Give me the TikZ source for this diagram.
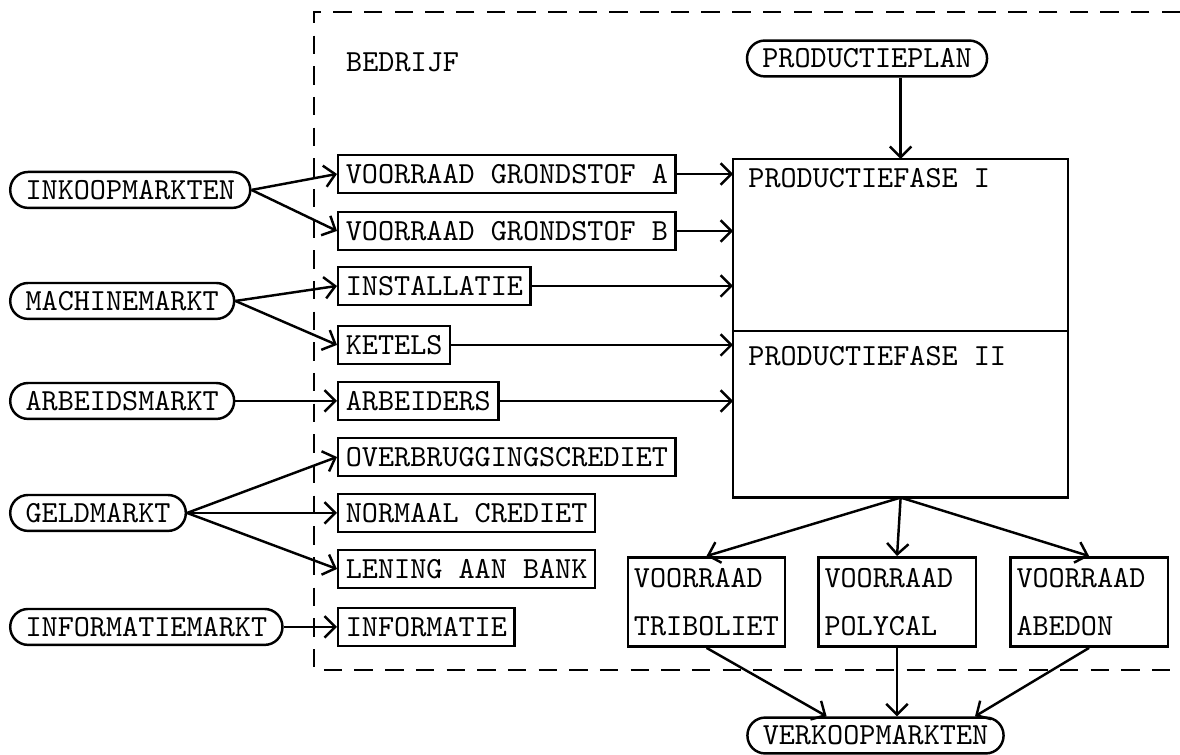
\documentclass[tikz,border=0pt]{standalone}
\usetikzlibrary{arrows.meta,calc}
\begin{document}
\begin{tikzpicture}[>={Straight Barb[length=3.5pt,width=7pt]}, line width=0.8pt,
  markt/.style={draw, rounded corners=5.8pt, minimum height=11.7pt, inner xsep=5pt, inner ysep=0pt, font=\ttfamily, anchor=west},
  boxl/.style={draw, minimum height=12.4pt, inner xsep=2.5pt, inner ysep=0pt, font=\ttfamily, anchor=west},
  boxv/.style={draw, text width=47.3pt, align=left, inner xsep=2pt, inner ysep=3.6pt, font=\ttfamily},
  fase/.style={draw, minimum width=3.84cm, inner sep=0pt, outer sep=0pt},
  fasetekst/.style={anchor=north west, font=\ttfamily, inner xsep=4.6pt}]

\useasboundingbox (0,0) rectangle (13.52,8.65);

\draw[dash pattern=on 6pt off 4pt] (13.52,8.513) -- (3.598,8.513) -- (3.598,0.974) -- (13.52,0.974);
\node[anchor=base west, font=\ttfamily, inner sep=0pt] (bedrijf) at (3.953,7.826) {BEDRIJF};

\node[markt] (inkoop) at (0.103,6.474) {INKOOPMARKTEN};
\node[markt] (machine) at (0.103,5.202) {MACHINEMARKT};
\node[markt] (arbeids) at (0.103,4.056) {ARBEIDSMARKT};
\node[markt] (geld) at (0.103,2.773) {GELDMARKT};
\node[markt] (infomarkt) at (0.103,1.467) {INFORMATIEMARKT};

\node[boxl] (vga) at (3.861,6.657) {VOORRAAD GRONDSTOF A};
\node[boxl] (vgb) at (3.861,6.004) {VOORRAAD GRONDSTOF B};
\node[boxl] (inst) at (3.861,5.374) {INSTALLATIE};
\node[boxl] (ketels) at (3.861,4.698) {KETELS};
\node[boxl] (arb) at (3.861,4.056) {ARBEIDERS};
\node[boxl] (over) at (3.861,3.414) {OVERBRUGGINGSCREDIET};
\node[boxl] (norm) at (3.861,2.773) {NORMAAL CREDIET};
\node[boxl] (lening) at (3.861,2.131) {LENING AAN BANK};
\node[boxl] (info) at (3.861,1.467) {INFORMATIE};

\node[markt, anchor=center] (plan) at (9.934,7.98) {PRODUCTIEPLAN};
\node[fase, minimum height=1.97cm, anchor=north west] (fase1) at (8.399,6.829) {};
\node[fase, minimum height=1.91cm, anchor=north] (fase2) at (fase1.south) {};
\node[fasetekst, inner ysep=2.6pt] (f1tekst) at (fase1.north west) {PRODUCTIEFASE I};
\node[fasetekst, inner ysep=4.6pt] (f2tekst) at (fase2.north west) {PRODUCTIEFASE II};

\node[boxv] (trib) at (8.095,1.753) {VOORRAAD\\[3.6pt] TRIBOLIET};
\node[boxv] (poly) at (10.278,1.753) {VOORRAAD\\[3.6pt] POLYCAL};
\node[boxv] (abed) at (12.478,1.753) {VOORRAAD\\[3.6pt] ABEDON};
\node[markt, anchor=center] (verk) at (10.031,0.223) {VERKOOPMARKTEN};

\draw[->] (inkoop.east) -- (vga.west);
\draw[->] (inkoop.east) -- (vgb.west);
\draw[->] (machine.east) -- (inst.west);
\draw[->] (machine.east) -- (ketels.west);
\draw[->] (arbeids.east) -- (arb.west);
\draw[->] (geld.east) -- (over.west);
\draw[->] (geld.east) -- (norm.west);
\draw[->] (geld.east) -- (lening.west);
\draw[->] (infomarkt.east) -- (info.west);

\draw[->] (vga.east) -- (vga -| fase1.west);
\draw[->] (vgb.east) -- (vgb -| fase1.west);
\draw[->] (inst.east) -- (inst -| fase1.west);
\draw[->] (ketels.east) -- (ketels -| fase2.west);
\draw[->] (arb.east) -- (arb -| fase2.west);

\draw[->] (plan.south -| fase1.north) -- (fase1.north);
\draw[->] (fase2.south) -- (trib.north);
\draw[->] (fase2.south) -- (poly.north);
\draw[->] (fase2.south) -- (abed.north);

\draw[->] (trib.south) -- ($(verk.north)+(-0.56,0)$);
\draw[->] (poly.south) -- (poly.south |- verk.north);
\draw[->] (abed.south) -- ($(verk.north)+(1.14,0)$);

\end{tikzpicture}
\end{document}
